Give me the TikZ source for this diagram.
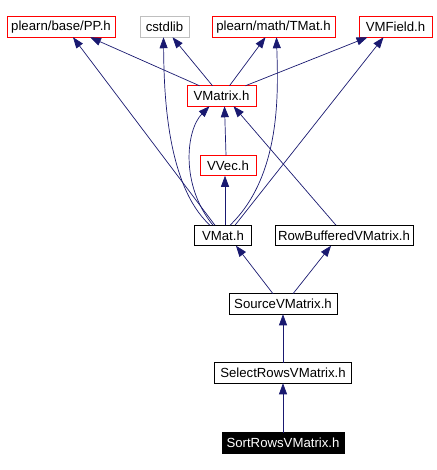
\documentclass[tikz,border=0pt]{standalone}
\usepackage{fontspec}
\setmainfont{Liberation Sans}
\usetikzlibrary{arrows.meta,positioning}
\definecolor{edgeblue}{RGB}{25,25,112}
\definecolor{lightgray}{RGB}{191,191,191}

\begin{document}
\begin{tikzpicture}[x=1pt,y=-1pt,outer sep = 0pt,inner sep = 2pt]
        \tikzset{file/.style={align=center,shape=rectangle,minimum height=20.5pt,inner xsep=1pt,draw,line width=0.8pt,font=\fontsize{13.2}{15}\selectfont}}
        \tikzset{redfile/.style={file,draw=red}}
        \tikzset{sysfile/.style={file,draw=lightgray}}
        \tikzset{mainfile/.style={file,fill=black,text=white}}
        \tikzset{dep/.style={draw=edgeblue,line width=0.7pt,-{Triangle[length=11pt,width=8pt]}}}
        \useasboundingbox (0,0) rectangle (436,470);

        \node [redfile,minimum width=108pt] (pp) at (61,27) {plearn/base/PP.h};
        \node [sysfile,minimum width=49pt] (cstdlib) at (164.5,27) {cstdlib};
        \node [redfile,minimum width=123pt] (tmat) at (273.5,27) {plearn/math/TMat.h};
        \node [redfile,minimum width=73pt] (vmfield) at (395.5,27) {VMField.h};
        \node [redfile,minimum width=69pt] (vmatrix) at (221.5,96) {VMatrix.h};
        \node [redfile,minimum width=56pt] (vvec) at (228,165.5) {VVec.h};
        \node [file,minimum width=57pt] (vmat) at (223,235.5) {VMat.h};
        \node [file,minimum width=138pt] (rowbuf) at (344,235.5) {RowBufferedVMatrix.h};
        \node [file,minimum width=108pt] (source) at (283,304) {SourceVMatrix.h};
        \node [file,minimum width=137pt] (select) at (283,373) {SelectRowsVMatrix.h};
        \node [mainfile,minimum width=122pt] (sort) at (283,443) {SortRowsVMatrix.h};

        \draw [dep] ([xshift=-22pt]vmatrix.north) -- ([xshift=29pt]pp.south);
        \draw [dep] ([xshift=-9pt]vmatrix.north) -- ([xshift=8pt]cstdlib.south);
        \draw [dep] ([xshift=8pt]vmatrix.north) -- ([xshift=-8pt]tmat.south);
        \draw [dep] ([xshift=24pt]vmatrix.north) -- ([xshift=-28pt]vmfield.south);

        \draw [dep] ([xshift=-8pt]vmat.north) -- ([xshift=12pt]pp.south);
        \draw [dep] ([xshift=-13pt]vmat.north) .. controls (166,185) and (164,90) .. ([xshift=-1pt]cstdlib.south);
        \draw [dep] ([xshift=7pt]vmat.north) .. controls (282,175) and (278,90) .. ([xshift=3pt]tmat.south);
        \draw [dep] ([xshift=12pt]vmat.north) -- ([xshift=-12pt]vmfield.south);
        \draw [dep] ([xshift=-10pt]vmat.north) .. controls (180,185) and (186,130) .. ([xshift=-12pt]vmatrix.south);
        \draw [dep] ([xshift=2pt]vmat.north) -- ([xshift=-3pt]vvec.south);
        \draw [dep] ([xshift=-2pt]vvec.north) -- ([xshift=3pt]vmatrix.south);
        \draw [dep] ([xshift=-8pt]rowbuf.north) -- ([xshift=12pt]vmatrix.south);

        \draw [dep] ([xshift=-10pt]source.north) -- ([xshift=13pt]vmat.south);
        \draw [dep] ([xshift=10pt]source.north) -- ([xshift=-13pt]rowbuf.south);
        \draw [dep] (select) -- (source);
        \draw [dep] (sort) -- (select);
\end{tikzpicture}
\end{document}
